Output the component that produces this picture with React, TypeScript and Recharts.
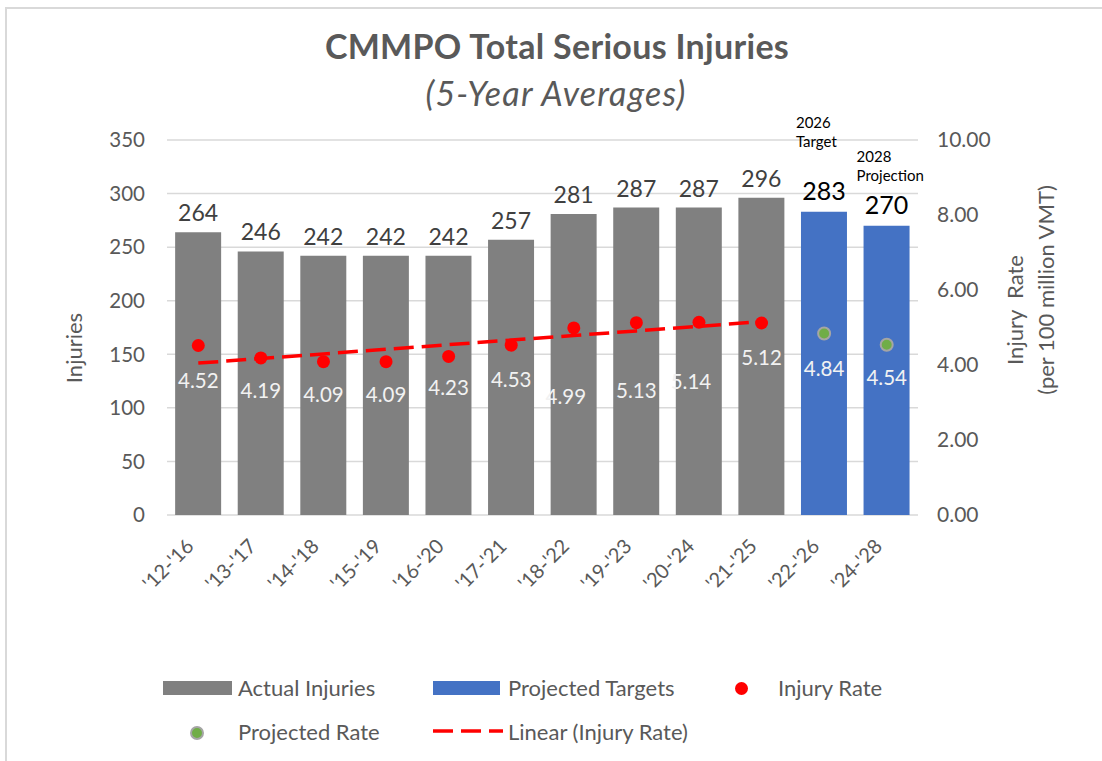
import React from "react"
import {
  ComposedChart, Bar, Line, XAxis, YAxis, CartesianGrid, LabelList,
} from "recharts"

const periods = ["'12-'16", "'13-'17", "'14-'18", "'15-'19", "'16-'20", "'17-'21", "'18-'22", "'19-'23", "'20-'24", "'21-'25", "'22-'26", "'24-'28"]
const actualInjuries = [264, 246, 242, 242, 242, 257, 281, 287, 287, 296, null, null]
const projectedTargets = [null, null, null, null, null, null, null, null, null, null, 283, 270]
const injuryRate = [4.52, 4.19, 4.09, 4.09, 4.23, 4.53, 4.99, 5.13, 5.14, 5.12, null, null]
const projectedRate = [null, null, null, null, null, null, null, null, null, null, 4.84, 4.54]
const targetNotes = [null, null, null, null, null, null, null, null, null, null, ["2026", "Target"], ["2028", "Projection"]]
const leftTicks = [0, 50, 100, 150, 200, 250, 300, 350]
const rightTicks = [0, 2, 4, 6, 8, 10]

// hand-placed label offsets (px below the dot) like in the original
const rateLabelDy = [34, 32, 32, 32, 31, 34, 68, 67, 59, 34, 34, 32]
const rateLabelDx = [0, 0, 0, 0, 0, 0, -8, 0, -8, 0, 0, 0]
const noteDy = [0, 0, 0, 0, 0, 0, 0, 0, 0, 0, 71, 51]
const noteDx = [0, 0, 0, 0, 0, 0, 0, 0, 0, 0, -5, -7]

const FONT = "Lato, 'Open Sans', sans-serif"
const GREY = "#595959"

// linear trend (least squares) of the actual injury rates, like Excel's trendline
const rateIdx = injuryRate.map((v, i) => (v == null ? -1 : i)).filter((i) => i >= 0)
const n = rateIdx.length
const mx = rateIdx.reduce((a, i) => a + i, 0) / n
const my = rateIdx.reduce((a, i) => a + (injuryRate[i] as number), 0) / n
const slope = rateIdx.reduce((a, i) => a + (i - mx) * ((injuryRate[i] as number) - my), 0) /
  rateIdx.reduce((a, i) => a + (i - mx) * (i - mx), 0)

const data = periods.map((p, i) => ({
  period: p,
  actual: actualInjuries[i],
  projected: projectedTargets[i],
  rate: injuryRate[i],
  projRate: projectedRate[i],
  trend: injuryRate[i] == null ? null : my + slope * (i - mx),
}))

const XTick = (props: any) => {
  const { x, y, payload } = props
  const ax = x - 9
  const ay = y + 19
  return (
    <text x={ax} y={ay} transform={`rotate(-45, ${ax}, ${ay})`} textAnchor="end"
      dominantBaseline="central" fontSize={20} fill={GREY} fontFamily={FONT}>
      {payload.value}
    </text>
  )
}

const makeRateLabel = (series: (number | null)[]) => (props: any) => {
  const { x, y, value } = props
  const i = periods.indexOf(value)
  if (i < 0 || series[i] == null || y == null) return null
  return (
    <text x={x + rateLabelDx[i]} y={y + rateLabelDy[i]} textAnchor="middle" dominantBaseline="central"
      fontSize={20.5} fill="#F2F2F2" fontFamily={FONT}>
      {(series[i] as number).toFixed(2)}
    </text>
  )
}

const ProjectedLabel = (props: any) => {
  const { x, y, width, value } = props
  const i = periods.indexOf(value)
  if (i < 0 || projectedTargets[i] == null) return null
  const cx = x + width / 2
  const note = targetNotes[i]
  return (
    <g fontFamily={FONT}>
      <text x={cx} y={y - 22} textAnchor="middle" dominantBaseline="central" fontSize={25} fill="#000">
        {projectedTargets[i]}
      </text>
      {note && (
        <>
          <text x={x + noteDx[i]} y={y - noteDy[i] - 19} textAnchor="start" dominantBaseline="central" fontSize={15} fill="#000">{note[0]}</text>
          <text x={x + noteDx[i]} y={y - noteDy[i]} textAnchor="start" dominantBaseline="central" fontSize={15} fill="#000">{note[1]}</text>
        </>
      )}
    </g>
  )
}

const ActualLabel = (props: any) => {
  const { x, y, width, value } = props
  const i = periods.indexOf(value)
  if (i < 0 || actualInjuries[i] == null) return null
  return (
    <text x={x + width / 2} y={y - 20} textAnchor="middle" dominantBaseline="central"
      fontSize={23} fill="#404040" fontFamily={FONT}>
      {actualInjuries[i]}
    </text>
  )
}

const RightAxisTitle = () => (
  <g fontFamily={FONT} fontSize={22} fill={GREY}>
    <text x={1014} y={310} textAnchor="middle" dominantBaseline="central" transform="rotate(-90, 1014, 310)">
      {"Injury\u00a0\u00a0Rate"}
    </text>
    <text x={1045} y={290} textAnchor="middle" dominantBaseline="central" transform="rotate(-90, 1045, 290)">
      (per 100 million VMT)
    </text>
  </g>
)

const LeftAxisTitle = () => (
  <text x={73} y={348} textAnchor="middle" dominantBaseline="central" transform="rotate(-90, 73, 348)"
    fontFamily={FONT} fontSize={22} fill={GREY}>
    Injuries
  </text>
)

const legendText: React.CSSProperties = {
  position: "absolute", fontFamily: FONT, fontSize: 22, color: GREY, lineHeight: "22px",
}

export default function App() {
  return (
    <div style={{ position: "fixed", top: 0, left: 0, width: 1102, height: 761, background: "#fff", overflow: "hidden" }}>
      <div style={{ position: "absolute", left: 5, top: 7, width: 1200, height: 800, borderTop: "2px solid #D9D9D9", borderLeft: "2px solid #D9D9D9" }} />

      <div style={{ position: "absolute", top: 25, left: 0, width: 1114, textAlign: "center", fontFamily: FONT, fontWeight: 700, fontSize: 34, letterSpacing: 0.3, color: GREY }}>
        CMMPO Total Serious Injuries
      </div>
      <div style={{ position: "absolute", top: 72, left: 0, width: 1112, textAlign: "center", fontFamily: FONT, fontStyle: "italic", fontSize: 34, letterSpacing: 1.2, color: GREY }}>
        (5-Year Averages)
      </div>

      <div style={{ position: "absolute", top: 0, left: 0 }}>
        <ComposedChart width={1102} height={761} data={data}
          margin={{ top: 140, right: 124, bottom: 166, left: 107 }} barCategoryGap="13%">
          <CartesianGrid yAxisId="left" vertical={false} stroke="#D9D9D9" strokeWidth={1.5} />
          <XAxis dataKey="period" height={80} axisLine={false} tickLine={false} tick={<XTick />} interval={0} />
          <YAxis yAxisId="left" width={60} domain={[0, 350]} ticks={leftTicks} axisLine={false} tickLine={false}
            tickSize={0} tickMargin={22} tick={{ fontSize: 20.5, fill: GREY, fontFamily: FONT }}
            label={{ content: () => <LeftAxisTitle /> }} />
          <YAxis yAxisId="right" orientation="right" width={60} domain={[0, 10]} ticks={rightTicks}
            axisLine={false} tickLine={false} tickSize={0} tickMargin={19}
            tickFormatter={(v: number) => v.toFixed(2)} tick={{ fontSize: 21, fill: GREY, fontFamily: FONT, textAnchor: "start" }}
            label={{ content: () => <RightAxisTitle /> }} />
          <Bar yAxisId="left" dataKey="actual" stackId="inj" fill="#808080" isAnimationActive={false}>
            <LabelList dataKey="period" content={<ActualLabel />} />
          </Bar>
          <Bar yAxisId="left" dataKey="projected" stackId="inj" fill="#4472C4" isAnimationActive={false}>
            <LabelList dataKey="period" content={<ProjectedLabel />} />
          </Bar>
          <Line yAxisId="right" dataKey="trend" stroke="#FF0000" strokeWidth={3.5} strokeDasharray="20 8"
            dot={false} activeDot={false} isAnimationActive={false} />
          <Line yAxisId="right" dataKey="rate" stroke="none" isAnimationActive={false} activeDot={false}
            dot={{ r: 6.5, fill: "#FF0000", stroke: "#FF0000", strokeWidth: 0 }}>
            <LabelList dataKey="period" content={makeRateLabel(injuryRate)} />
          </Line>
          <Line yAxisId="right" dataKey="projRate" stroke="none" isAnimationActive={false} activeDot={false}
            dot={{ r: 6, fill: "#70AD47", stroke: "#A5A5A5", strokeWidth: 2 }}>
            <LabelList dataKey="period" content={makeRateLabel(projectedRate)} />
          </Line>
        </ComposedChart>
      </div>

      {/* legend */}
      <div style={{ position: "absolute", left: 163, top: 681, width: 69, height: 14, background: "#808080" }} />
      <div style={{ ...legendText, left: 238, top: 677 }}>Actual Injuries</div>
      <div style={{ position: "absolute", left: 433, top: 681, width: 67, height: 14, background: "#4472C4" }} />
      <div style={{ ...legendText, left: 508, top: 677 }}>Projected Targets</div>
      <div style={{ position: "absolute", left: 735, top: 682, width: 13, height: 13, borderRadius: "50%", background: "#FF0000" }} />
      <div style={{ ...legendText, left: 778, top: 677 }}>Injury Rate</div>

      <div style={{ position: "absolute", left: 190, top: 726, width: 10, height: 10, borderRadius: "50%", background: "#70AD47", border: "2px solid #A5A5A5" }} />
      <div style={{ ...legendText, left: 238, top: 721 }}>Projected Rate</div>
      <svg style={{ position: "absolute", left: 433, top: 726 }} width={70} height={10}>
        <line x1={0} y1={5} x2={70} y2={5} stroke="#FF0000" strokeWidth={3.5} strokeDasharray="20 8" />
      </svg>
      <div style={{ ...legendText, left: 508, top: 721 }}>Linear (Injury Rate)</div>
    </div>
  )
}
